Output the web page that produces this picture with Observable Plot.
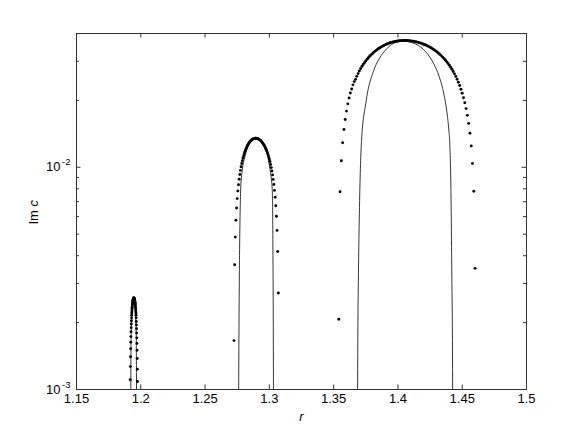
<!DOCTYPE html>
<html>
<head>
<meta charset="utf-8">
<script src="https://cdn.jsdelivr.net/npm/d3@7"></script>
<script src="https://cdn.jsdelivr.net/npm/@observablehq/plot@0.6"></script>
<style>
  html, body { margin: 0; padding: 0; background: white; }
</style>
</head>
<body>
<div id="chart"></div>
<script>
// ---- tick values and labels ----
const xTickValues = [1.15, 1.2, 1.25, 1.3, 1.35, 1.4, 1.45, 1.5];
const xTickLabels = ["1.15", "1.2", "1.25", "1.3", "1.35", "1.4", "1.45", "1.5"];
const yMajorTicks = [0.001, 0.01];
const yTickExponents = ["-3", "-2"];
const yMinorTicks = [0.002, 0.003, 0.004, 0.005, 0.006, 0.007, 0.008, 0.009, 0.02, 0.03];

// ---- dotted series (sampled points) ----
const dots1R = [1.1918,1.1919,1.1920,1.1921,1.1922,1.1923,1.1924,1.1925,1.1926,1.1927,1.1928,1.1929,1.1930,1.1931,1.1932,1.1933,1.1934,1.1935,1.1936,1.1937,1.1938,1.1939,1.1940,1.1941,1.1942,1.1943,1.1944,1.1945,1.1946,1.1947,1.1948,1.1949,1.1950,1.1951,1.1952,1.1953,1.1954,1.1955,1.1956,1.1957,1.1958,1.1959,1.1960,1.1961,1.1962,1.1963,1.1964,1.1965,1.1966,1.1967,1.1968,1.1969,1.1970,1.1971,1.1972,1.1973,1.1974];
const dots1Im = [0.001107,0.001268,0.001405,0.001526,0.001633,0.001730,0.001818,0.001898,0.001971,0.002039,0.002101,0.002157,0.002210,0.002258,0.002302,0.002342,0.002379,0.002412,0.002442,0.002469,0.002493,0.002513,0.002531,0.002546,0.002558,0.002568,0.002575,0.002579,0.002580,0.002579,0.002575,0.002568,0.002558,0.002546,0.002531,0.002513,0.002493,0.002469,0.002442,0.002412,0.002379,0.002342,0.002302,0.002258,0.002210,0.002157,0.002101,0.002024,0.001954,0.001879,0.001797,0.001708,0.001612,0.001503,0.001378,0.001235,0.001086];

const dots2R = [1.2725,1.2730,1.2735,1.2740,1.2745,1.2750,1.2755,1.2760,1.2765,1.2770,1.2775,1.2780,1.2785,1.2790,1.2795,1.2800,1.2805,1.2810,1.2815,1.2820,1.2825,1.2830,1.2835,1.2840,1.2845,1.2850,1.2855,1.2860,1.2865,1.2870,1.2875,1.2880,1.2885,1.2890,1.2895,1.2900,1.2905,1.2910,1.2915,1.2920,1.2925,1.2930,1.2935,1.2940,1.2945,1.2950,1.2955,1.2960,1.2965,1.2970,1.2975,1.2980,1.2985,1.2990,1.2995,1.3000,1.3005,1.3010,1.3015,1.3020,1.3025,1.3030,1.3035,1.3040,1.3045,1.3050,1.3055,1.3060,1.3065,1.3070];
const dots2Im = [0.00166,0.00364,0.00485,0.00578,0.00656,0.00723,0.00782,0.00835,0.00884,0.00928,0.00968,0.01005,0.01040,0.01071,0.01101,0.01128,0.01153,0.01177,0.01198,0.01218,0.01236,0.01253,0.01268,0.01282,0.01295,0.01306,0.01316,0.01324,0.01331,0.01337,0.01342,0.01346,0.01348,0.01350,0.01350,0.01349,0.01347,0.01344,0.01340,0.01335,0.01329,0.01321,0.01313,0.01304,0.01293,0.01281,0.01268,0.01254,0.01239,0.01222,0.01204,0.01184,0.01163,0.01140,0.01115,0.01089,0.01061,0.01030,0.00997,0.00962,0.00924,0.00882,0.00837,0.00787,0.00733,0.00671,0.00602,0.00520,0.00418,0.00272];

const dots3R = [1.354,1.355,1.356,1.357,1.358,1.359,1.360,1.361,1.362,1.363,1.364,1.365,1.366,1.367,1.368,1.369,1.370,1.371,1.372,1.373,1.374,1.375,1.376,1.377,1.378,1.379,1.380,1.381,1.382,1.383,1.384,1.385,1.386,1.387,1.388,1.389,1.390,1.391,1.392,1.393,1.394,1.395,1.396,1.397,1.398,1.399,1.400,1.401,1.402,1.403,1.404,1.405,1.406,1.407,1.408,1.409,1.410,1.411,1.412,1.413,1.414,1.415,1.416,1.417,1.418,1.419,1.420,1.421,1.422,1.423,1.424,1.425,1.426,1.427,1.428,1.429,1.430,1.431,1.432,1.433,1.434,1.435,1.436,1.437,1.438,1.439,1.440,1.441,1.442,1.443,1.444,1.445,1.446,1.447,1.448,1.449,1.450,1.451,1.452,1.453,1.454,1.455,1.456,1.457,1.458,1.459,1.460];
const dots3Im = [0.00207,0.00776,0.0107,0.0129,0.0148,0.0164,0.0179,0.0193,0.0205,0.0216,0.0225,0.0235,0.0243,0.02487,0.02566,0.02640,0.02710,0.02777,0.02840,0.02900,0.02957,0.03011,0.03063,0.03112,0.03158,0.03203,0.03244,0.03284,0.03322,0.03358,0.03391,0.03423,0.03453,0.03482,0.03508,0.03533,0.03556,0.03578,0.03598,0.03616,0.03633,0.03648,0.03662,0.03674,0.03685,0.03694,0.03702,0.03709,0.03714,0.03717,0.03719,0.03720,0.03719,0.03718,0.03714,0.03710,0.03705,0.03698,0.03690,0.03681,0.03670,0.03658,0.03645,0.03631,0.03615,0.03598,0.03580,0.03560,0.03539,0.03517,0.03493,0.03467,0.03440,0.03412,0.03382,0.03350,0.03317,0.03282,0.03245,0.03206,0.03165,0.03123,0.03078,0.03031,0.02982,0.02931,0.02877,0.02820,0.02761,0.02698,0.02633,0.02564,0.02491,0.02414,0.02333,0.02246,0.02154,0.02056,0.01951,0.01837,0.01713,0.01576,0.01423,0.01248,0.01040,0.00780,0.00351];

// ---- solid curves ----
const curve1R = [1.1922,1.1923,1.1925,1.1928,1.1933,1.1940,1.1946,1.1952,1.1958,1.1962,1.1965,1.1966,1.1967];
const curve1Im = [0.0009,0.0013,0.0017,0.0020,0.0023,0.00245,0.00250,0.00245,0.0023,0.0020,0.0017,0.0013,0.0009];

const curve2R = [1.2761,1.2763,1.2765,1.2768,1.2772,1.2777,1.2790,1.2807,1.2836,1.2862,1.2897,1.2927,1.2955,1.2990,1.3008,1.3022,1.3026,1.3028,1.3030,1.3031,1.3032];
const curve2Im = [0.0009,0.0016,0.0025,0.0040,0.0060,0.0080,0.0098,0.0110,0.0125,0.0132,0.01345,0.0132,0.0125,0.0110,0.0095,0.0080,0.0060,0.0040,0.0025,0.0016,0.0009];

const curve3R = [1.3686,1.3688,1.3693,1.3701,1.3717,1.3750,1.3812,1.3850,1.3890,1.3930,1.3968,1.4010,1.4046,1.4100,1.4140,1.4176,1.4220,1.4279,1.4320,1.4357,1.4380,1.4396,1.4402,1.4414,1.4419,1.4424,1.4426];
const curve3Im = [0.0009,0.00166,0.00333,0.0066,0.0132,0.0194,0.0273,0.0305,0.0330,0.0349,0.0362,0.0368,0.0369,0.0365,0.0358,0.0348,0.0329,0.0292,0.0257,0.0214,0.0179,0.0147,0.0132,0.0066,0.00333,0.00166,0.0009];

// ---- build tables ----
function zipPts(R, Im, id) { return R.map((r, i) => ({r, im: Im[i], id})); }
const dots = [
  ...zipPts(dots1R, dots1Im, 1),
  ...zipPts(dots2R, dots2Im, 2),
  ...zipPts(dots3R, dots3Im, 3)
];
const curves = [
  ...zipPts(curve1R, curve1Im, 1),
  ...zipPts(curve2R, curve2Im, 2),
  ...zipPts(curve3R, curve3Im, 3)
];

const W = 581, H = 437;
const mL = 76, mR = 55, mT = 33, mB = 48;
const ph = H - mT - mB, pw = W - mL - mR;
const tMaj = 4.5, tMin = 3;
const axisColor = "#333";
const font = "'Liberation Sans', Arial, Helvetica, sans-serif";

const chart = Plot.plot({
  width: W, height: H,
  marginLeft: mL, marginRight: mR, marginTop: mT, marginBottom: mB,
  x: {domain: [1.15, 1.5], axis: null},
  y: {type: "log", domain: [0.001, 0.04], axis: null},
  style: {fontFamily: font, background: "white", color: "black"},
  marks: [
    Plot.line(curves, {x: "r", y: "im", z: "id", stroke: "black", strokeWidth: 0.8, curve: "monotone-x", clip: true}),
    Plot.dot(dots, {x: "r", y: "im", r: 1.45, fill: "black", stroke: "none", clip: true}),
    // x ticks bottom & top (inward)
    Plot.tickX(xTickValues, {x: d => d, insetTop: ph - tMaj, stroke: axisColor}),
    Plot.tickX(xTickValues, {x: d => d, insetBottom: ph - tMaj, stroke: axisColor}),
    // y ticks left & right (inward)
    Plot.tickY(yMajorTicks, {y: d => d, insetRight: pw - tMaj, stroke: axisColor}),
    Plot.tickY(yMajorTicks, {y: d => d, insetLeft: pw - tMaj, stroke: axisColor}),
    Plot.tickY(yMinorTicks, {y: d => d, insetRight: pw - tMin, stroke: axisColor}),
    Plot.tickY(yMinorTicks, {y: d => d, insetLeft: pw - tMin, stroke: axisColor}),
    Plot.frame({stroke: axisColor, strokeWidth: 1}),
    // x tick labels
    Plot.text(xTickValues, {x: d => d, text: (d, i) => xTickLabels[i], frameAnchor: "bottom", dy: 13, fontSize: 13, fill: "black"}),
    // y tick labels 10^e
    Plot.text(yMajorTicks, {y: d => d, text: () => "10", frameAnchor: "left", dx: -16, textAnchor: "end", fontSize: 13, fill: "black"}),
    Plot.text(yMajorTicks, {y: d => d, text: (d, i) => yTickExponents[i], frameAnchor: "left", dx: -14.5, dy: -5, textAnchor: "start", fontSize: 9.5, fill: "black"}),
    // axis labels
    Plot.text(["r"], {text: d => d, frameAnchor: "bottom", dy: 31, fontSize: 13, fontStyle: "italic", fill: "black"}),
    Plot.text(["Im"], {text: d => d, frameAnchor: "left", dx: -43, dy: 13, rotate: -90, fontSize: 13, fill: "black"}),
    Plot.text(["c"], {text: d => d, frameAnchor: "left", dx: -43, dy: -5, rotate: -90, fontSize: 13, fontStyle: "italic", fill: "black"})
  ]
});
document.getElementById("chart").appendChild(chart);
</script>
</body>
</html>
